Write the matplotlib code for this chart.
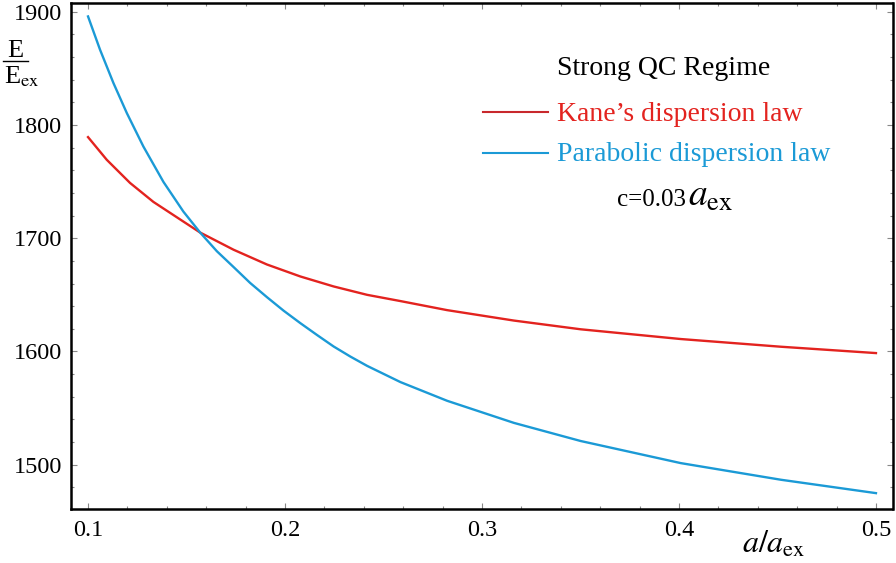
import matplotlib
matplotlib.use("Agg")
import matplotlib.pyplot as plt
from matplotlib.lines import Line2D
from matplotlib.ticker import MultipleLocator

plt.rcParams['font.family'] = ['Liberation Serif', 'DejaVu Serif']
plt.rcParams['mathtext.fontset'] = 'stix'

W, H = 896, 563

# values
kane_a = [0.1, 0.1095, 0.1213, 0.1332, 0.1468, 0.1569, 0.1739, 0.1908, 0.2078,
          0.2247, 0.2417, 0.2586, 0.2823, 0.3162, 0.3501, 0.4009, 0.4518, 0.5]
kane_E = [1789.2, 1769.2, 1748.8, 1732.0, 1716.5, 1705.0, 1689.8, 1676.8, 1666.2,
          1657.4, 1650.0, 1644.5, 1636.5, 1627.3, 1619.6, 1611.0, 1604.2, 1598.6]

para_a = [0.1, 0.1061, 0.1129, 0.1197, 0.1281, 0.1383, 0.1484, 0.1569, 0.1654,
          0.1739, 0.1823, 0.1908, 0.1993, 0.2078, 0.2163, 0.2247, 0.2332, 0.2417,
          0.2586, 0.2823, 0.3162, 0.3501, 0.4009, 0.4518, 0.5]
para_E = [1895.7, 1866.3, 1836.9, 1810.4, 1780.9, 1749.6, 1723.5, 1705.0, 1688.5,
          1674.5, 1660.5, 1648.0, 1636.0, 1625.0, 1614.5, 1604.4, 1595.5, 1587.3,
          1573.0, 1556.5, 1537.0, 1521.0, 1501.5, 1486.8, 1475.0]

x_ticks = [0.1, 0.2, 0.3, 0.4, 0.5]
y_ticks = [1500, 1600, 1700, 1800, 1900]

RED = '#e3231f'
BLUE = '#1b9ad6'


def px(x, y):
    """pixel position in the 896x563 image -> figure fraction"""
    return x / W, 1 - y / H


fig = plt.figure(figsize=(W / 100, H / 100), dpi=100)
ax = fig.add_axes([70.7 / W, 1 - 509 / H, (892.5 - 70.7) / W, (509 - 2.5) / H])

ax.plot(kane_a, kane_E, color=RED, lw=1.7)
ax.plot(para_a, para_E, color=BLUE, lw=1.7)

ax.set_xlim(0.0912, 0.5084)
ax.set_ylim(1461, 1908)
ax.set_xticks(x_ticks)
ax.set_yticks(y_ticks)
ax.set_xticklabels([f"{v:g}" for v in x_ticks])
ax.set_yticklabels([str(v) for v in y_ticks])
ax.xaxis.set_minor_locator(MultipleLocator(0.02))
ax.yaxis.set_minor_locator(MultipleLocator(20))
ax.tick_params(which='both', direction='in', top=True, right=True,
               color='#888888', width=0.8)
ax.tick_params(which='major', length=4, labelsize=17.5)
ax.tick_params(axis='y', which='major', pad=6)
ax.tick_params(axis='x', which='major', pad=8)
ax.tick_params(which='minor', length=2.5)
for s in ax.spines.values():
    s.set_linewidth(1.8)

# y label as a stacked fraction
fig.text(*px(15, 57), 'E', fontsize=19, ha='center', va='baseline')
fig.add_artist(Line2D([3 / W, 28 / W], [1 - 61 / H, 1 - 61 / H],
                      color='black', lw=1.0, transform=fig.transFigure))
fig.text(*px(4, 83), r'E$_{\mathrm{ex}}$', fontsize=19, ha='left', va='baseline')

# x label
fig.text(*px(742, 553), r'$a/a_{\mathrm{ex}}$', fontsize=23, ha='left', va='baseline')

# legend-like annotation block
fig.text(*px(664, 75), 'Strong QC Regime', fontsize=20, ha='center', va='baseline')
fig.add_artist(Line2D([483 / W, 548 / W], [1 - 111.7 / H] * 2, color='#c8282c',
                      lw=1.5, transform=fig.transFigure))
fig.text(*px(557, 120.7), 'Kane\u2019s dispersion law', fontsize=20, color=RED,
         ha='left', va='baseline')
fig.add_artist(Line2D([483 / W, 548 / W], [1 - 153.3 / H] * 2, color=BLUE,
                      lw=1.5, transform=fig.transFigure))
fig.text(*px(557, 160.7), 'Parabolic dispersion law', fontsize=20, color=BLUE,
         ha='left', va='baseline')
fig.text(*px(617, 205.7), 'c=0.03', fontsize=18, ha='left', va='baseline')
fig.text(*px(688, 205.7), r'$a_{\mathrm{ex}}$', fontsize=27, ha='left', va='baseline')

fig.savefig('out.png', dpi=100)
